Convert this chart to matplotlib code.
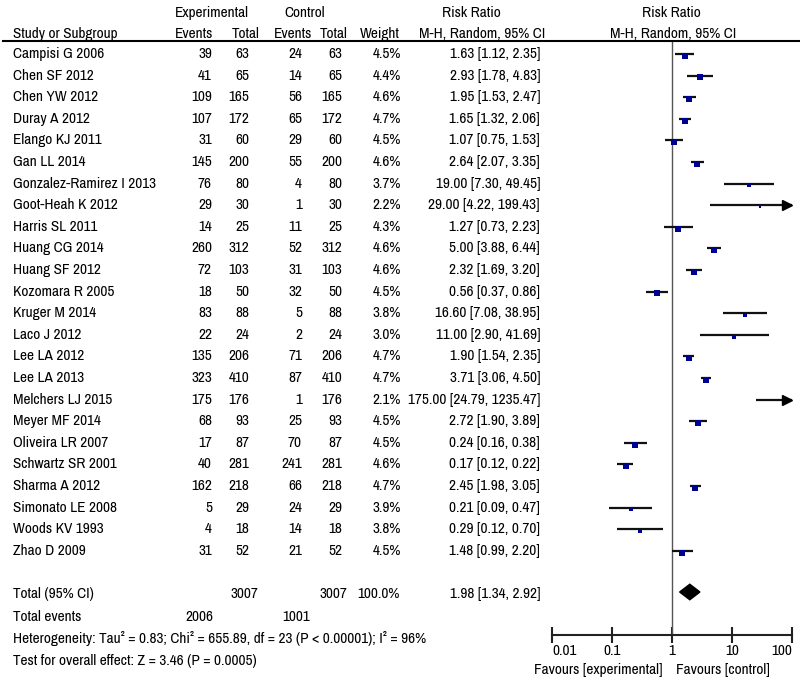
import matplotlib
matplotlib.use("Agg")
import matplotlib.pyplot as plt
import matplotlib.transforms as mtransforms
from matplotlib.patches import Polygon
from matplotlib.ticker import NullLocator

studies = ["Campisi G 2006", "Chen SF 2012", "Chen YW 2012", "Duray A 2012",
           "Elango KJ 2011", "Gan LL 2014", "Gonzalez-Ramirez I 2013",
           "Goot-Heah K 2012", "Harris SL 2011", "Huang CG 2014", "Huang SF 2012",
           "Kozomara R 2005", "Kruger M 2014", "Laco J 2012", "Lee LA 2012",
           "Lee LA 2013", "Melchers LJ 2015", "Meyer MF 2014", "Oliveira LR 2007",
           "Schwartz SR 2001", "Sharma A 2012", "Simonato LE 2008", "Woods KV 1993",
           "Zhao D 2009"]
exp_events = [39, 41, 109, 107, 31, 145, 76, 29, 14, 260, 72, 18, 83, 22, 135, 323,
              175, 68, 17, 40, 162, 5, 4, 31]
exp_total = [63, 65, 165, 172, 60, 200, 80, 30, 25, 312, 103, 50, 88, 24, 206, 410,
             176, 93, 87, 281, 218, 29, 18, 52]
ctrl_events = [24, 14, 56, 65, 29, 55, 4, 1, 11, 52, 31, 32, 5, 2, 71, 87,
               1, 25, 70, 241, 66, 24, 14, 21]
ctrl_total = exp_total
weights = [4.5, 4.4, 4.6, 4.7, 4.5, 4.6, 3.7, 2.2, 4.3, 4.6, 4.6, 4.5, 3.8, 3.0,
           4.7, 4.7, 2.1, 4.5, 4.5, 4.6, 4.7, 3.9, 3.8, 4.5]
rr = [1.63, 2.93, 1.95, 1.65, 1.07, 2.64, 19.00, 29.00, 1.27, 5.00, 2.32, 0.56,
      16.60, 11.00, 1.90, 3.71, 175.00, 2.72, 0.24, 0.17, 2.45, 0.21, 0.29, 1.48]
ci_low = [1.12, 1.78, 1.53, 1.32, 0.75, 2.07, 7.30, 4.22, 0.73, 3.88, 1.69, 0.37,
          7.08, 2.90, 1.54, 3.06, 24.79, 1.90, 0.16, 0.12, 1.98, 0.09, 0.12, 0.99]
ci_high = [2.35, 4.83, 2.47, 2.06, 1.53, 3.35, 49.45, 199.43, 2.23, 6.44, 3.20, 0.86,
           38.95, 41.69, 2.35, 4.50, 1235.47, 3.89, 0.38, 0.22, 3.05, 0.47, 0.70, 2.20]

total_rr, total_low, total_high = 1.98, 1.34, 2.92
total_n_exp, total_n_ctrl = 3007, 3007
total_ev_exp, total_ev_ctrl = 2006, 1001
ticks = [0.01, 0.1, 1, 10, 100]
tick_labels = ["0.01", "0.1", "1", "10", "100"]

plt.rcParams['font.family'] = ['Archivo Narrow', 'DejaVu Sans']
FS = 11

W, H = 800, 685
ROW0, ROWH = 54, 21.6


def row(p):
	# pixel height in the picture -> row units
	return (p - ROW0) / ROWH


fig = plt.figure(figsize=(8, 6.85), dpi=100)
ax = fig.add_axes([552 / W, (H - 635) / H, 240 / W, (635 - 41) / H])
ax.set_xscale('log')
ax.set_xlim(0.01, 100)
ax.set_ylim(row(635), row(41))
for s in ['top', 'left', 'right']:
	ax.spines[s].set_visible(False)
ax.spines['bottom'].set_linewidth(1.5)
ax.spines['bottom'].set_color('#222222')
ax.set_yticks([])
ax.set_xticks(ticks, tick_labels)
ax.xaxis.set_minor_locator(NullLocator())
ax.tick_params(axis='x', direction='inout', length=11, width=1.5, pad=1, labelsize=FS,
               color='#222222')
lbls = ax.get_xticklabels()
lbls[0].set_horizontalalignment('left')
lbls[-1].set_horizontalalignment('right')
ax.patch.set_alpha(0)

tr = mtransforms.blended_transform_factory(fig.transFigure, ax.transData)

# vertical line of no effect
ax.plot([1, 1], [row(41), row(635)], color='#555555', lw=1, clip_on=False)

# study rows
for i in range(len(studies)):
	lo = max(ci_low[i], 0.01)
	hi = min(ci_high[i], 100)
	ax.plot([lo, hi], [i, i], color='#111111', lw=1.6, solid_capstyle='butt', clip_on=False)
	if ci_high[i] > 100:
		ax.plot([83], [i], marker='>', color='black', markersize=7, clip_on=False)
	if 0.01 <= rr[i] <= 100:
		ax.plot([rr[i]], [i + 0.08], marker='s', color='#000090', markersize=weights[i] * 0.85,
		        markeredgewidth=0)

	y = i
	ax.text(13 / W, y, studies[i], transform=tr, ha='left', va='center', fontsize=FS)
	ax.text(212 / W, y, str(exp_events[i]), transform=tr, ha='right', va='center', fontsize=FS)
	ax.text(249 / W, y, str(exp_total[i]), transform=tr, ha='right', va='center', fontsize=FS)
	ax.text(302 / W, y, str(ctrl_events[i]), transform=tr, ha='right', va='center', fontsize=FS)
	ax.text(342 / W, y, str(ctrl_total[i]), transform=tr, ha='right', va='center', fontsize=FS)
	ax.text(401 / W, y, f"{weights[i]:.1f}%", transform=tr, ha='right', va='center', fontsize=FS)
	ax.text(540 / W, y, f"{rr[i]:.2f} [{ci_low[i]:.2f}, {ci_high[i]:.2f}]", transform=tr,
	        ha='right', va='center', fontsize=FS)

# pooled diamond
yt = row(592)
dh = 0.36
ax.add_patch(Polygon([[total_low, yt], [total_rr, yt - dh], [total_high, yt], [total_rr, yt + dh]],
                     closed=True, color='black'))

# header
ax.plot([3 / W, 1.0], [row(41), row(41)], transform=tr, color='black', lw=1.5, clip_on=False)
ax.text(212 / W, row(13), "Experimental", transform=tr, ha='center', va='center', fontsize=FS)
ax.text(305 / W, row(13), "Control", transform=tr, ha='center', va='center', fontsize=FS)
ax.text(471 / W, row(13), "Risk Ratio", transform=tr, ha='center', va='center', fontsize=FS)
ax.text(671 / W, row(13), "Risk Ratio", transform=tr, ha='center', va='center', fontsize=FS)
yh = row(34)
ax.text(13 / W, yh, "Study or Subgroup", transform=tr, ha='left', va='center', fontsize=FS)
ax.text(213 / W, yh, "Events", transform=tr, ha='right', va='center', fontsize=FS)
ax.text(260 / W, yh, "Total", transform=tr, ha='right', va='center', fontsize=FS)
ax.text(312 / W, yh, "Events", transform=tr, ha='right', va='center', fontsize=FS)
ax.text(348 / W, yh, "Total", transform=tr, ha='right', va='center', fontsize=FS)
ax.text(400 / W, yh, "Weight", transform=tr, ha='right', va='center', fontsize=FS)
ax.text(482 / W, yh, "M-H, Random, 95% CI", transform=tr, ha='center', va='center', fontsize=FS)
ax.text(673 / W, yh, "M-H, Random, 95% CI", transform=tr, ha='center', va='center', fontsize=FS)

# totals and footer
ytt = row(594)
ax.text(13 / W, ytt, "Total (95% CI)", transform=tr, ha='left', va='center', fontsize=FS)
ax.text(258 / W, ytt, str(total_n_exp), transform=tr, ha='right', va='center', fontsize=FS)
ax.text(347 / W, ytt, str(total_n_ctrl), transform=tr, ha='right', va='center', fontsize=FS)
ax.text(400 / W, ytt, "100.0%", transform=tr, ha='right', va='center', fontsize=FS)
ax.text(540 / W, ytt, f"{total_rr:.2f} [{total_low:.2f}, {total_high:.2f}]", transform=tr,
        ha='right', va='center', fontsize=FS)
ye = row(617)
ax.text(13 / W, ye, "Total events", transform=tr, ha='left', va='center', fontsize=FS)
ax.text(213 / W, ye, str(total_ev_exp), transform=tr, ha='right', va='center', fontsize=FS)
ax.text(310 / W, ye, str(total_ev_ctrl), transform=tr, ha='right', va='center', fontsize=FS)
ax.text(13 / W, row(639), "Heterogeneity: Tau\u00b2 = 0.83; Chi\u00b2 = 655.89, df = 23 (P < 0.00001); I\u00b2 = 96%",
        transform=tr, ha='left', va='center', fontsize=FS)
ax.text(13 / W, row(661), "Test for overall effect: Z = 3.46 (P = 0.0005)",
        transform=tr, ha='left', va='center', fontsize=FS)
ax.text(663 / W, row(670), "Favours [experimental]", transform=tr, ha='right', va='center', fontsize=FS)
ax.text(676 / W, row(670), "Favours [control]", transform=tr, ha='left', va='center', fontsize=FS)

fig.savefig("out.png", dpi=100, facecolor='white')
